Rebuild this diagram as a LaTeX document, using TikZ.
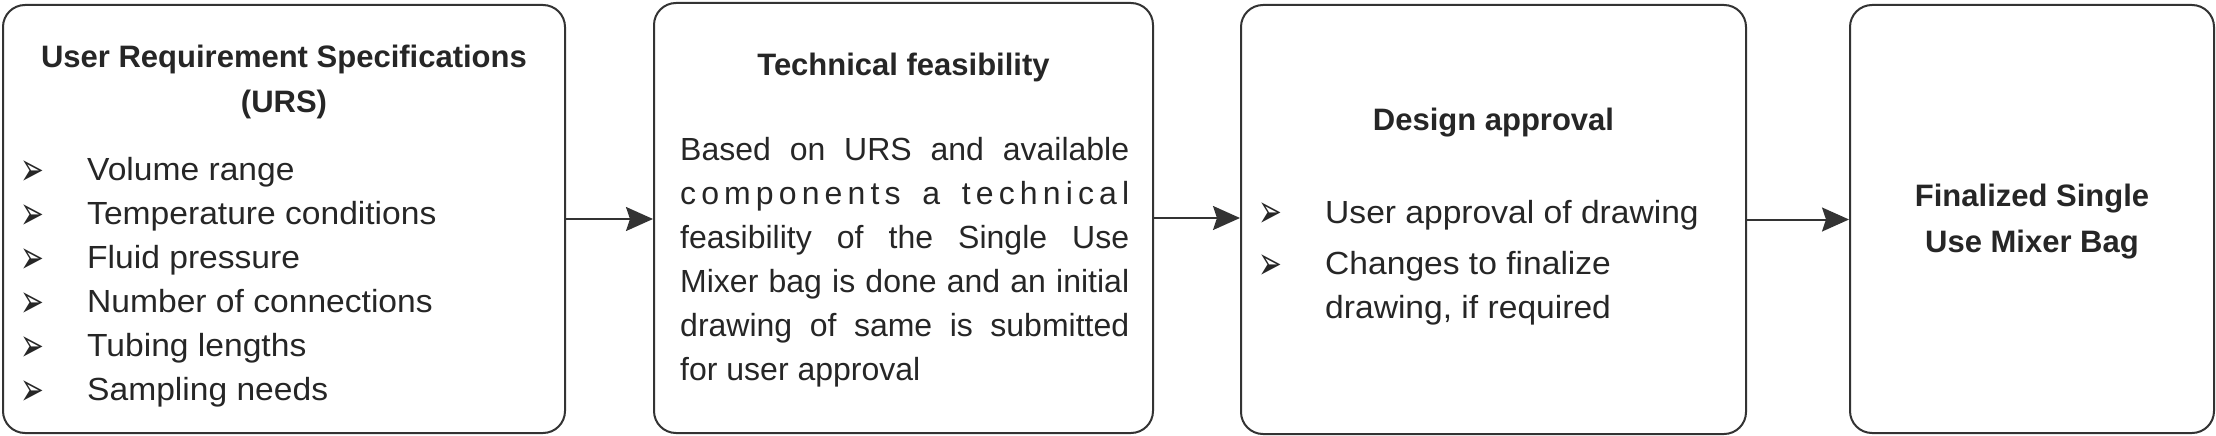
\documentclass[tikz,border=0pt]{standalone}
\usepackage{fontspec}
\setmainfont{Liberation Sans}
\newfontfamily\symfont{DejaVu Sans}
\newfontfamily\widefont[FakeStretch=1.05]{Liberation Sans}
\usetikzlibrary{arrows.meta}
\definecolor{edge}{HTML}{333333}
\definecolor{ink}{HTML}{262626}
\newcommand\arrowbul{\scalebox{0.95}[1.55]{➢}}
\tikzset{
  box/.style={draw=edge, line width=2pt, rounded corners=22pt, inner sep=0pt},
  conn/.style={draw=edge, line width=2pt, -{Stealth[length=27pt, width=24pt, inset=4pt]}},
  title/.style={text=ink, inner sep=0pt, font=\fontsize{31pt}{38pt}\selectfont\bfseries},
  body/.style={text=ink, inner sep=0pt, font=\fontsize{32pt}{44pt}\selectfont},
  item/.style={text=ink, inner sep=0pt, font=\widefont\fontsize{32pt}{44pt}\selectfont},
  bul/.style={text=ink, inner sep=0pt, font=\symfont\fontsize{30pt}{30pt}\selectfont}
}
\begin{document}
\begin{tikzpicture}[x=1pt, y=-1pt]
\useasboundingbox (0,0) rectangle (2216,436);
% boxes
\node[box, minimum width=562pt, minimum height=428pt] (b1) at (284,219) {};
\node[box, minimum width=499pt, minimum height=430pt] (b2) at (903.5,218) {};
\node[box, minimum width=505pt, minimum height=429pt] (b3) at (1493.5,219.5) {};
\node[box, minimum width=364pt, minimum height=428pt] (b4) at (2032,219) {};
% box 1
\node[title, anchor=base] (t1a) at (284,67) {User Requirement Specifications};
\node[title, anchor=base] (t1b) at (284,112) {(URS)};
\foreach \y/\txt [count=\i] in {180/Volume range, 224/Temperature conditions, 268/Fluid pressure, 312/Number of connections, 356/Tubing lengths, 400/Sampling needs}{
  \node[bul] (u\i) at (32,\y-7) {\arrowbul};
  \node[item, anchor=base west] (l\i) at (87,\y) {\txt};
}
% box 2
\node[title, anchor=base] (t2) at (903.5,75) {Technical feasibility};
\node[body, anchor=base west] (p2) at (680,160) {\parbox[t]{449pt}{\baselineskip=44pt
Based on URS and available\linebreak
{\addfontfeature{LetterSpace=16}components a technical}\linebreak
feasibility of the Single Use\linebreak
Mixer bag is done and an initial\linebreak
drawing of same is submitted\linebreak
for user approval}};
% box 3
\node[title, anchor=base] (t3) at (1493.5,130) {Design approval};
\node[bul] (d1) at (1270,215) {\arrowbul};
\node[item, anchor=base west] (e1) at (1325,223) {User approval of drawing};
\node[bul] (d2) at (1270,267) {\arrowbul};
\node[item, anchor=base west] (e2) at (1325,274) {Changes to finalize};
\node[item, anchor=base west] (e3) at (1325,318) {drawing, if required};
% box 4
\node[title, anchor=base] (t4a) at (2032,206) {Finalized Single};
\node[title, anchor=base] (t4b) at (2032,252) {Use Mixer Bag};
% connectors
\draw[conn] (b1.east) -- (b1.east -| b2.west);
\draw[conn] (b2.east) -- (b2.east -| b3.west);
\draw[conn] (b3.east) -- (b3.east -| b4.west);
\end{tikzpicture}
\end{document}
